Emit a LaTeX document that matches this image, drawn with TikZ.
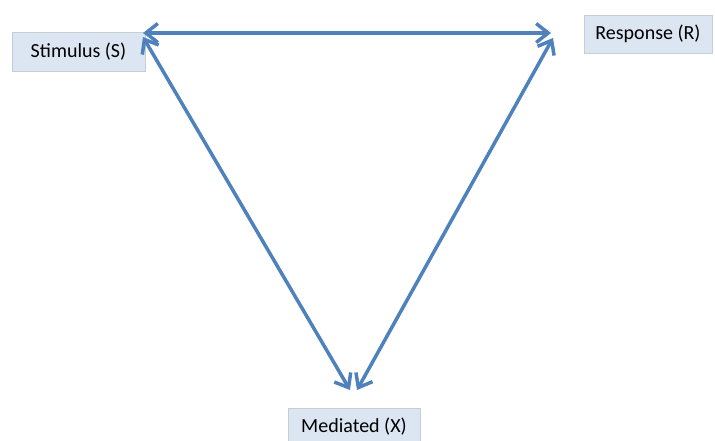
\documentclass[tikz,border=0pt]{standalone}
\usepackage{fontspec}
\setmainfont{Carlito}
\usetikzlibrary{arrows.meta}
\definecolor{arrowblue}{HTML}{4F81BD}
\definecolor{boxfill}{HTML}{DCE6F2}
\definecolor{boxline}{HTML}{C8CDD3}

\begin{document}
\begin{tikzpicture}[x=1pt,y=-1pt,
		labelbox/.style={draw=boxline,fill=boxfill,inner xsep=0pt,inner ysep=0pt,font=\fontsize{20}{24}\selectfont},
		link/.style={draw=arrowblue,line width=3.5pt,{Straight Barb[length=12pt,width=19pt]}-{Straight Barb[length=12pt,width=19pt]}}]
			\useasboundingbox (0,0) rectangle (715,441);
			\node[labelbox,minimum width=133pt,minimum height=39pt] (stim) at (78.5,51.5) {Stimulus (S)};
			\node[labelbox,minimum width=128pt,minimum height=38pt] (resp) at (648,34) {Response (R)};
			\node[labelbox,minimum width=132pt,minimum height=36pt,anchor=north] (med) at (354,408) {Mediated (X)};
			\coordinate (sr) at (143,33);
			\coordinate (rs) at (551,33);
			\coordinate (sm) at (143,37);
			\coordinate (ms) at (350,390);
			\coordinate (rm) at (553,38);
			\coordinate (mr) at (357,390);
			\draw[link] (sr) -- (rs);
			\draw[link] (sm) -- (ms);
			\draw[link] (rm) -- (mr);
		\end{tikzpicture}
\end{document}
